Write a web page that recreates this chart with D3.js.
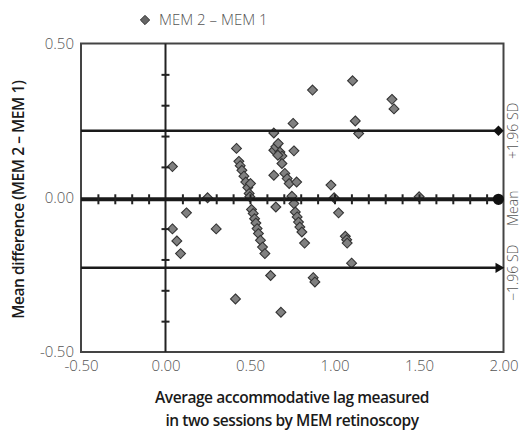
<!DOCTYPE html>
<html>
<head>
<meta charset="utf-8">
<script src="https://cdn.jsdelivr.net/npm/d3@7"></script>
<style>
  body { margin: 0; background: #fff; }
  svg text { font-family: "Open Sans", "Noto Sans", sans-serif; }
</style>
</head>
<body>
<div id="chart"></div>
<script>
// average of the two sessions (x) and difference MEM 2 - MEM 1 (y)
var meanLag = [0.041, 0.124, 0.041, 0.067, 0.089, 0.300, 0.249, 0.414, 0.683, 0.420,
    0.641, 0.641, 0.653, 0.667, 0.677, 0.689, 0.665, 0.870, 1.107, 1.340,
    1.352, 0.755, 1.123, 1.143, 0.760, 0.689, 0.641, 0.434, 0.442, 0.452,
    0.464, 0.475, 0.487, 0.503, 0.495, 0.499, 0.653, 0.509, 0.519, 0.527,
    0.535, 0.542, 0.550, 0.562, 0.574, 0.588, 0.622, 0.706, 0.720, 0.732,
    0.776, 0.748, 0.760, 0.768, 0.779, 0.787, 0.795, 0.807, 0.823, 0.979,
    0.998, 1.024, 1.064, 1.072, 1.075, 1.101, 0.874, 0.884, 1.501];
var difference = [0.101, -0.049, -0.101, -0.140, -0.181, -0.101, 0.000, -0.328, -0.371, 0.160,
    0.210, 0.154, 0.165, 0.176, 0.148, 0.135, 0.138, 0.349, 0.379, 0.319,
    0.288, 0.241, 0.249, 0.208, 0.152, 0.111, 0.073, 0.118, 0.104, 0.089,
    0.070, 0.051, 0.033, 0.046, 0.014, 0.003, -0.030, -0.038, -0.051, -0.068,
    -0.082, -0.100, -0.116, -0.138, -0.160, -0.181, -0.252, 0.079, 0.062, 0.046,
    0.051, 0.005, -0.019, -0.046, -0.062, -0.079, -0.095, -0.111, -0.147, 0.041,
    0.000, -0.049, -0.125, -0.136, -0.147, -0.212, -0.259, -0.273, 0.003];

var limitNames = ["+1.96 SD", "Mean", "\u22121.96 SD"];
var limitValues = [0.217, -0.005, -0.227];
var limitMarkers = ["diamond", "circle", "arrow"];
var limitMarkerX = 1.97;

var xTickLabels = [-0.5, 0, 0.5, 1, 1.5, 2];
var yTickLabels = [-0.5, 0, 0.5];
var xMinorTicks = [-0.4, -0.3, -0.2, -0.1, 0.1, 0.2, 0.3, 0.4, 0.5, 0.6, 0.7, 0.8, 0.9,
    1.0, 1.1, 1.2, 1.3, 1.4, 1.5, 1.6, 1.7, 1.8, 1.9];
var yMinorTicks = [-0.4, -0.3, -0.2, -0.1, 0.1, 0.2, 0.3, 0.4];

var svg = d3.select("#chart").append("svg")
    .attr("width", 523)
    .attr("height", 430);

var margin = { top: 43.5, right: 19.5, bottom: 78, left: 81 },
    width = 523 - margin.left - margin.right,
    height = 430 - margin.top - margin.bottom;

var x = d3.scaleLinear().domain([-0.5, 2]).range([margin.left, margin.left + width]);
var y = d3.scaleLinear().domain([-0.5, 0.5]).range([margin.top + height, margin.top]);

var fmt = function (d) { return d3.format(".2f")(d).replace("\u2212", "-"); };

// tick labels
var xAxis = svg.append("g")
    .attr("transform", "translate(0," + (margin.top + height) + ")")
    .call(d3.axisBottom(x).tickValues(xTickLabels).tickSize(0).tickPadding(8).tickFormat(fmt));
xAxis.select(".domain").remove();
xAxis.selectAll("text").attr("font-size", 15).attr("fill", "#555")
    .attr("font-family", "Open Sans, sans-serif").attr("font-weight", 300);

var yAxis = svg.append("g")
    .attr("transform", "translate(" + margin.left + ",0)")
    .call(d3.axisLeft(y).tickValues(yTickLabels).tickSize(0).tickPadding(7).tickFormat(fmt));
yAxis.select(".domain").remove();
yAxis.selectAll("text").attr("font-size", 15).attr("fill", "#555")
    .attr("font-family", "Open Sans, sans-serif").attr("font-weight", 300);

// plot frame
svg.append("rect")
    .attr("x", margin.left).attr("y", margin.top)
    .attr("width", width).attr("height", height)
    .attr("fill", "none").attr("stroke", "#444").attr("stroke-width", 2);

// data points
var diamond = d3.symbol().type(d3.symbolDiamond2).size(62);
svg.append("g").selectAll("path")
    .data(meanLag.map(function (d, i) { return [d, difference[i]]; }))
    .enter().append("path")
    .attr("d", diamond)
    .attr("transform", function (d) { return "translate(" + x(d[0]) + "," + y(d[1]) + ")"; })
    .attr("fill", "#808080")
    .attr("stroke", "#333")
    .attr("stroke-width", 1.1);

// vertical zero axis with crossing ticks
svg.append("line")
    .attr("x1", x(0)).attr("x2", x(0))
    .attr("y1", y(0.5)).attr("y2", y(-0.5))
    .attr("stroke", "#222").attr("stroke-width", 2);
var vTicks = svg.append("g")
    .attr("transform", "translate(" + (x(0) + 4) + ",0)")
    .call(d3.axisLeft(y).tickValues(yMinorTicks).tickSize(8).tickFormat(""));
vTicks.select(".domain").remove();
vTicks.selectAll("line").attr("stroke", "#222").attr("stroke-width", 2);

// limits of agreement
svg.append("g").selectAll("line")
    .data(limitValues)
    .enter().append("line")
    .attr("x1", margin.left).attr("x2", x(limitMarkerX))
    .attr("y1", function (d) { return y(d); })
    .attr("y2", function (d) { return y(d); })
    .attr("stroke", "#1a1a1a")
    .attr("stroke-width", function (d, i) { return i == 1 ? 4 : 2.6; });

var hTicks = svg.append("g")
    .attr("transform", "translate(0," + (y(limitValues[1]) - 5) + ")")
    .call(d3.axisBottom(x).tickValues(xMinorTicks).tickSize(10).tickFormat(""));
hTicks.select(".domain").remove();
hTicks.selectAll("line").attr("stroke", "#222").attr("stroke-width", 2);

// end markers
var endSymbol = {
    diamond: d3.symbol().type(d3.symbolDiamond2).size(70),
    circle: d3.symbol().type(d3.symbolCircle).size(100),
    arrow: d3.symbol().type(d3.symbolTriangle2).size(75)
};
svg.append("g").selectAll("path")
    .data(limitValues)
    .enter().append("path")
    .attr("d", function (d, i) { return endSymbol[limitMarkers[i]](); })
    .attr("transform", function (d, i) {
        return "translate(" + x(limitMarkerX) + "," + y(d) + ")" + (limitMarkers[i] == "arrow" ? " rotate(90)" : "");
    })
    .attr("fill", "#111");

// right-hand labels
svg.append("g").selectAll("text")
    .data(limitNames)
    .enter().append("text")
    .attr("transform", function (d, i) {
        var off = i == 1 ? 9 : (i == 2 ? 5 : 0);
        return "translate(513," + (y(limitValues[i]) + off) + ") rotate(-90)";
    })
    .attr("text-anchor", "middle")
    .attr("dy", "0.35em")
    .attr("font-size", 14)
    .attr("font-weight", 300)
    .attr("fill", "#555")
    .text(function (d) { return d; });

// legend
svg.append("path")
    .attr("d", d3.symbol().type(d3.symbolDiamond2).size(55))
    .attr("transform", "translate(145,20)")
    .attr("fill", "#666").attr("stroke", "#333");
svg.append("text")
    .attr("x", 159).attr("y", 20).attr("dy", "0.35em")
    .attr("font-size", 15).attr("font-weight", 300).attr("fill", "#555")
    .text("MEM 2 \u2013 MEM 1");

// axis titles
var xTitle = svg.append("text")
    .attr("text-anchor", "middle")
    .attr("font-size", 15.5)
    .attr("font-weight", 600)
    .attr("letter-spacing", -0.45)
    .attr("fill", "#1a1a1a");
xTitle.append("tspan").attr("x", 292).attr("y", 403).text("Average accommodative lag measured");
xTitle.append("tspan").attr("x", 292).attr("y", 426).text("in two sessions by MEM retinoscopy");

svg.append("text")
    .attr("transform", "translate(24," + (margin.top + height / 2 + 2) + ") rotate(-90)")
    .attr("text-anchor", "middle")
    .attr("font-size", 15.5)
    .attr("font-weight", 600)
    .attr("letter-spacing", -0.45)
    .attr("fill", "#1a1a1a")
    .text("Mean difference (MEM 2 \u2013 MEM 1)");
</script>
</body>
</html>
